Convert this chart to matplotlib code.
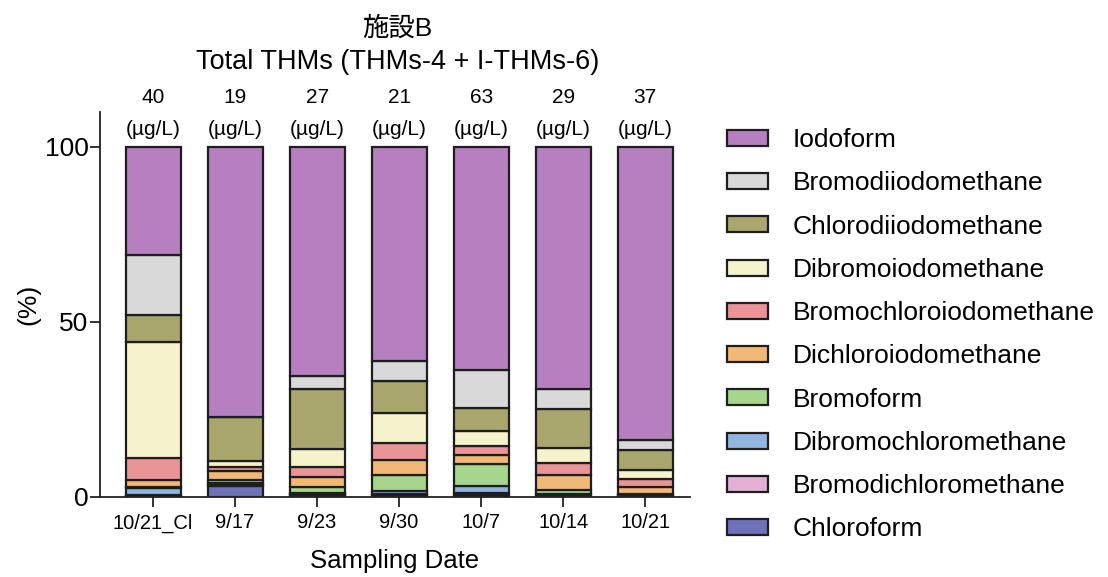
import matplotlib
matplotlib.use("Agg")
import matplotlib.pyplot as plt
from matplotlib.patches import Patch
import numpy as np

plt.rcParams['font.family'] = ['Liberation Sans', 'Noto Sans CJK JP', 'DejaVu Sans']

dates = ["10/21_Cl", "9/17", "9/23", "9/30", "10/7", "10/14", "10/21"]
totals = ["40", "19", "27", "21", "63", "29", "37"]

# stacking order bottom -> top
species = ["Chloroform", "Bromodichloromethane", "Dibromochloromethane", "Bromoform",
           "Dichloroiodomethane", "Bromochloroiodomethane", "Dibromoiodomethane",
           "Chlorodiiodomethane", "Bromodiiodomethane", "Iodoform"]

chloroform = [0.3, 3.2, 0.5, 0.4, 0.5, 0.4, 0.3]
bromodichloromethane = [0.3, 0.3, 0.3, 0.3, 0.6, 0.2, 0.2]
dibromochloromethane = [2.0, 0.4, 0.3, 1.0, 2.1, 0.2, 0.1]
bromoform = [0.3, 1.0, 1.6, 4.5, 6.2, 1.2, 0.2]
dichloroiodomethane = [1.9, 2.4, 3.1, 4.3, 2.6, 4.3, 2.1]
bromochloroiodomethane = [6.3, 1.3, 2.8, 4.9, 2.6, 3.5, 2.2]
dibromoiodomethane = [33.1, 1.7, 5.1, 8.5, 4.3, 4.2, 2.6]
chlorodiiodomethane = [7.7, 12.6, 17.0, 9.1, 6.5, 11.1, 5.7]
bromodiiodomethane = [17.2, 0.0, 3.7, 5.8, 10.7, 5.8, 2.8]
iodoform = [30.9, 77.1, 65.6, 61.2, 63.9, 69.1, 83.8]

values = [chloroform, bromodichloromethane, dibromochloromethane, bromoform,
          dichloroiodomethane, bromochloroiodomethane, dibromoiodomethane,
          chlorodiiodomethane, bromodiiodomethane, iodoform]

colors = ["#6d72bb", "#e2b0d4", "#8fb6e0", "#a5d68b", "#f2b877",
          "#e99597", "#f5f3cc", "#a8a66c", "#d9d9d9", "#b67fc0"]

EDGE = "#1e1e1e"

fig = plt.figure(figsize=(11.08, 5.77), dpi=100)
ax = fig.add_axes([0.090, 0.139, 0.533, 0.667])

x = np.arange(len(dates))
bottom = np.zeros(len(dates))
for name, vals, c in zip(species, values, colors):
    v = np.array(vals)
    ax.bar(x, v, bottom=bottom, width=0.67, color=c, edgecolor=EDGE,
           linewidth=1.6, label=name)
    bottom += v

ax.set_ylim(0, 110)
ax.set_xlim(-0.65, 6.55)
ax.set_yticks([0, 50, 100])
ax.set_yticklabels(["0", "50", "100"], fontsize=19)
ax.spines['left'].set_bounds(0, 110)
ax.set_xticks(x)
ax.set_xticklabels(dates, fontsize=14.5)
ax.tick_params(axis='both', length=7, width=1.3, color="#222222")
ax.tick_params(axis='x', pad=5)
ax.tick_params(axis='y', pad=1)
for s in ['top', 'right']:
    ax.spines[s].set_visible(False)
for s in ['left', 'bottom']:
    ax.spines[s].set_linewidth(1.3)
    ax.spines[s].set_color("#222222")

ax.set_ylabel("(%)", fontsize=19, labelpad=3)
ax.set_xlabel("Sampling Date", fontsize=18.5, labelpad=12)

for xi, t in zip(x, totals):
    ax.text(xi, 104.9, "(µg/L)", ha='center', va='center', fontsize=15)
    ax.text(xi, 114.0, t, ha='center', va='center', fontsize=15)

fig.text(0.359, 0.951, "施設B", ha='center', va='center', fontsize=19)
fig.text(0.359, 0.892, "Total THMs (THMs-4 + I-THMs-6)", ha='center', va='center', fontsize=19.5)

handles = [Patch(facecolor=c, edgecolor=EDGE, linewidth=1.6, label=n)
           for n, c in zip(species, colors)][::-1]
fig.legend(handles=handles, loc='upper left', bbox_to_anchor=(0.656, 0.778),
           frameon=False, fontsize=19, handlelength=1.55, handleheight=0.55,
           handletextpad=0.95, labelspacing=0.73, borderpad=0, borderaxespad=0)

fig.savefig("out.png", dpi=100)
